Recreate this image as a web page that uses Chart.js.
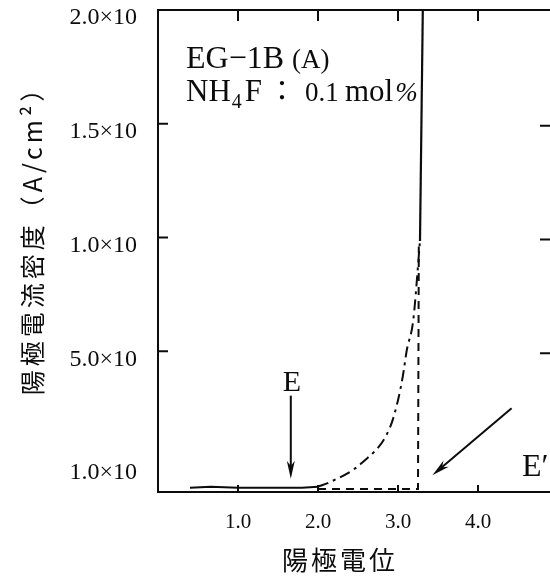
<!DOCTYPE html>
<html>
<head>
<meta charset="utf-8">
<script src="https://cdn.jsdelivr.net/npm/chart.js@4/dist/chart.umd.min.js"></script>
<style>
  html, body { margin: 0; padding: 0; background: #fff; overflow: hidden; }
  #wrap { width: 550px; height: 576px; position: relative; }
</style>
</head>
<body>
<div id="wrap"><canvas id="chart" width="550" height="576"></canvas></div>
<script>
// tick values and labels
const xTickValues = [1, 2, 3, 4];
const xTickLabels = ['1.0', '2.0', '3.0', '4.0'];
const yTickValues = [0, 1, 2, 3, 4];
const yTickLabels = ['1.0×10', '5.0×10', '1.0×10', '1.5×10', '2.0×10'];

// flat part of the curve (solid)
const flatX = [0.4, 0.66, 1.0, 1.5, 1.8, 2.0];
const flatY = [-0.2, -0.19, -0.2, -0.2, -0.2, -0.19];
// rising part (dash-dot)
const riseX = [2.0, 2.15, 2.55, 2.9, 3.0, 3.06, 3.11, 3.19, 3.275];
const riseY = [-0.19, -0.15, 0.02, 0.33, 0.57, 0.78, 1.01, 1.27, 1.97];
// vertical jump (solid)
const jumpX = [3.275, 3.31];
const jumpY = [1.97, 4.0];
// dashed guide E'
const dashX = [2.0, 3.25, 3.26];
const dashY = [-0.21, -0.21, 1.92];

const ink = '#0c0c0c';
const serif = '"Liberation Serif", "DejaVu Serif", serif';
const cjk = '"Noto Sans CJK JP", sans-serif';

function pts(xs, ys) {
  return xs.map((x, i) => ({x: x, y: ys[i]}));
}

function arrow(ctx, x1, y1, x2, y2, len, half) {
  const a = Math.atan2(y2 - y1, x2 - x1);
  ctx.beginPath();
  ctx.moveTo(x1, y1);
  ctx.lineTo(x2 - Math.cos(a) * len * 0.6, y2 - Math.sin(a) * len * 0.6);
  ctx.stroke();
  ctx.beginPath();
  ctx.moveTo(x2, y2);
  ctx.lineTo(x2 - Math.cos(a) * len - Math.sin(a) * half, y2 - Math.sin(a) * len + Math.cos(a) * half);
  ctx.lineTo(x2 - Math.cos(a) * len * 0.7, y2 - Math.sin(a) * len * 0.7);
  ctx.lineTo(x2 - Math.cos(a) * len + Math.sin(a) * half, y2 - Math.sin(a) * len - Math.cos(a) * half);
  ctx.closePath();
  ctx.fill();
}

const frame = {
  id: 'frame',
  afterDraw(chart) {
    const ctx = chart.ctx;
    const xs = chart.scales.x, ys = chart.scales.y;
    const area = chart.chartArea;
    ctx.save();
    ctx.strokeStyle = ink;
    ctx.fillStyle = ink;
    ctx.lineWidth = 2;

    // top border
    ctx.beginPath();
    ctx.moveTo(area.left - 1, area.top);
    ctx.lineTo(area.right, area.top);
    ctx.stroke();

    // inward ticks
    xTickValues.forEach(v => {
      const px = xs.getPixelForValue(v);
      ctx.beginPath();
      ctx.moveTo(px, area.top); ctx.lineTo(px, area.top + 11);
      ctx.moveTo(px, area.bottom); ctx.lineTo(px, area.bottom - 7);
      ctx.stroke();
    });
    [1, 2, 3].forEach(v => {
      const py = ys.getPixelForValue(v);
      ctx.beginPath();
      ctx.moveTo(area.left, py); ctx.lineTo(area.left + 10, py);
      ctx.moveTo(area.right, py + 2); ctx.lineTo(area.right - 10, py + 2);
      ctx.stroke();
    });

    // E arrow
    const ex = xs.getPixelForValue(1.66);
    arrow(ctx, ex, ys.getPixelForValue(0.61), ex, ys.getPixelForValue(-0.12), 18, 4);
    ctx.font = '30px ' + serif;
    ctx.textAlign = 'center';
    ctx.textBaseline = 'alphabetic';
    ctx.fillText('E', ex + 1, ys.getPixelForValue(0.65));

    // E' arrow
    arrow(ctx, xs.getPixelForValue(4.42), ys.getPixelForValue(0.5),
      xs.getPixelForValue(3.43), ys.getPixelForValue(-0.09), 18, 4);
    ctx.textAlign = 'left';
    ctx.font = '32px ' + serif;
    ctx.fillText('E′', xs.getPixelForValue(4.55), ys.getPixelForValue(-0.1));

    // sample label
    ctx.font = '32px ' + serif;
    ctx.fillText('EG−1B', 186, 68);
    let w = ctx.measureText('EG−1B ').width;
    ctx.font = '27px ' + serif;
    ctx.fillText('(A)', 186 + w, 68);

    let x = 186;
    ctx.font = '31px ' + serif;
    ctx.fillText('NH', x, 101); x += ctx.measureText('NH').width;
    ctx.font = '20px ' + serif;
    ctx.fillText('4', x + 1, 108); x += ctx.measureText('4').width + 4;
    ctx.font = '31px ' + serif;
    ctx.fillText('F', x, 101); x += ctx.measureText('F').width + 8;
    ctx.font = '28px ' + cjk;
    ctx.fillText('：', x - 2, 101);
    x = 305;
    ctx.font = '27px ' + serif;
    ctx.fillText('0.1', x, 101);
    x = 345;
    ctx.font = '31px ' + serif;
    ctx.fillText('mol', x, 101); x += ctx.measureText('mol').width + 2;
    ctx.font = 'italic 27px ' + serif;
    ctx.fillText('%', x, 101);

    // axis titles
    ctx.font = '26px ' + cjk;
    ctx.letterSpacing = '3px';
    ctx.textAlign = 'center';
    ctx.textBaseline = 'middle';
    ctx.fillText('陽極電位', 340, 560);

    ctx.translate(32, 234);
    ctx.rotate(-Math.PI / 2);
    ctx.font = '25px ' + cjk;
    ctx.letterSpacing = '4px';
    ctx.fillText('陽極電流密度（A/cm²）', 0, 0);
    ctx.restore();
  }
};

new Chart(document.getElementById('chart'), {
  type: 'scatter',
  data: {
    datasets: [
      {data: pts(flatX, flatY), showLine: true, borderColor: ink, borderWidth: 2, pointRadius: 0},
      {data: pts(riseX, riseY), showLine: true, borderColor: ink, borderWidth: 2, pointRadius: 0,
        borderDash: [11, 5, 3, 5], cubicInterpolationMode: 'monotone'},
      {data: pts(jumpX, jumpY), showLine: true, borderColor: ink, borderWidth: 2.2, pointRadius: 0},
      {data: pts(dashX, dashY), showLine: true, borderColor: ink, borderWidth: 2, pointRadius: 0,
        borderDash: [8, 6]}
    ]
  },
  options: {
    responsive: false,
    animation: false,
    devicePixelRatio: 1,
    layout: {padding: {top: 10, right: 0, left: 0, bottom: 0}},
    plugins: {legend: {display: false}, tooltip: {enabled: false}},
    scales: {
      x: {
        type: 'linear', min: 0, max: 4.9,
        afterBuildTicks: s => { s.ticks = xTickValues.map(v => ({value: v})); },
        afterFit: s => { s.height = 84; s.paddingLeft = 0; s.paddingRight = 0; },
        grid: {display: false, drawTicks: false},
        border: {color: ink, width: 2},
        ticks: {
          padding: 18, color: ink, font: {family: serif, size: 21},
          maxRotation: 0,
          callback: v => xTickLabels[xTickValues.indexOf(v)]
        }
      },
      y: {
        type: 'linear', min: -0.237, max: 4,
        afterBuildTicks: s => { s.ticks = yTickValues.map(v => ({value: v})); },
        afterFit: s => { s.width = 158; s.paddingTop = 0; s.paddingBottom = 0; },
        grid: {display: false, drawTicks: false},
        border: {color: ink, width: 2},
        ticks: {
          padding: 21, color: ink, labelOffset: 8, font: {family: serif, size: 24},
          callback: v => yTickLabels[yTickValues.indexOf(v)]
        }
      }
    }
  },
  plugins: [frame]
});
</script>
</body>
</html>
